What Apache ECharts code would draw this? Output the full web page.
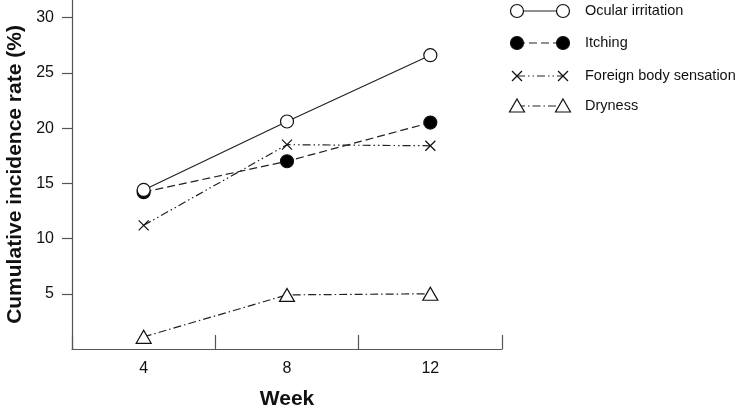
<!DOCTYPE html>
<html><head><meta charset="utf-8">
<script src="https://cdn.jsdelivr.net/npm/echarts@6/dist/echarts.min.js"></script>
<style>html,body{margin:0;padding:0;background:#fff}#c{width:735px;height:406px}</style>
</head><body><div id="c"></div>
<script>
var weeks = ['4', '8', '12'];
var ocular = [14.4, 20.6, 26.6];
var itching = [14.2, 17.0, 20.5];
var foreignBody = [11.2, 18.5, 18.4];
var dryness = [1.1, 4.9, 5.0];
var yTicks = [5, 10, 15, 20, 25, 30];
var names = ['Ocular irritation', 'Itching', 'Foreign body sensation', 'Dryness'];

var CROSS = 'path://M0,0L10,10M10,0L0,10';
var styles = [
  {symbol: 'circle', size: 13, fill: '#fff', dash: 'solid'},
  {symbol: 'circle', size: 13, fill: '#000', dash: [8, 4]},
  {symbol: CROSS, size: 10, fill: 'none', dash: [8, 3, 1.5, 3, 1.5, 3]},
  {symbol: 'triangle', size: [15, 13], fill: '#fff', dash: [8, 3, 1.5, 3]}
];
var datasets = [ocular, itching, foreignBody, dryness];

var series = datasets.map(function (d, i) {
  var s = styles[i];
  return {
    name: names[i], type: 'line', data: d, symbol: s.symbol, symbolSize: s.size,
    z: 10 - i,
    lineStyle: {color: '#222', width: 1.2, type: s.dash},
    itemStyle: {color: s.fill, borderColor: '#111', borderWidth: 1.2},
    emphasis: {disabled: true}, animation: false
  };
});

// legend drawn as graphics
var graphics = [];
var legendRows = [11, 43, 76, 106];
styles.forEach(function (s, i) {
  var y = legendRows[i];
  var x1 = 517, x2 = 563;
  graphics.push({type: 'line', shape: {x1: x1, y1: y, x2: x2, y2: y},
    style: {stroke: '#222', lineWidth: 1.2, lineDash: s.dash === 'solid' ? null : s.dash}, z: 1});
  [x1, x2].forEach(function (x) {
    if (s.symbol === 'circle') {
      graphics.push({type: 'circle', shape: {cx: x, cy: y, r: 6.5}, style: {fill: s.fill, stroke: '#111', lineWidth: 1.2}, z: 2});
    } else if (s.symbol === CROSS) {
      graphics.push({type: 'polyline', shape: {points: [[x - 5, y - 5], [x + 5, y + 5]]}, style: {stroke: '#111', lineWidth: 1.2}, z: 2});
      graphics.push({type: 'polyline', shape: {points: [[x + 5, y - 5], [x - 5, y + 5]]}, style: {stroke: '#111', lineWidth: 1.2}, z: 2});
    } else {
      graphics.push({type: 'polygon', shape: {points: [[x, y - 7], [x + 7.5, y + 6], [x - 7.5, y + 6]]}, style: {fill: '#fff', stroke: '#111', lineWidth: 1.2}, z: 2});
    }
  });
  graphics.push({type: 'text', x: 585, y: y, style: {text: names[i], fill: '#111', font: '14.5px "Liberation Sans", Arial, sans-serif', verticalAlign: 'middle'}, z: 2});
});

var chart = echarts.init(document.getElementById('c'), null, {renderer: 'canvas'});
chart.setOption({
  animation: false,
  backgroundColor: '#fff',
  textStyle: {fontFamily: '"Liberation Sans", Arial, sans-serif'},
  grid: {left: 72, right: 233, top: 0, bottom: 57, containLabel: false, outerBoundsMode: 'none'},
  xAxis: {
    type: 'category', data: weeks, boundaryGap: true,
    name: 'Week', nameLocation: 'middle', nameGap: 40,
    nameTextStyle: {fontSize: 21, fontWeight: 'bold', color: '#111'},
    axisLine: {show: true, lineStyle: {color: '#555', width: 1.2}},
    axisTick: {show: true, inside: true, length: 14, interval: 0, alignWithLabel: false, lineStyle: {color: '#555', width: 1.2}},
    axisLabel: {fontSize: 16, color: '#111', margin: 12},
    splitLine: {show: false}
  },
  yAxis: {
    type: 'value', min: 0, max: 31.6,
    name: 'Cumulative incidence rate (%)', nameLocation: 'middle', nameGap: 46,
    nameTextStyle: {fontSize: 21, fontWeight: 'bold', color: '#111'},
    axisLine: {show: true, lineStyle: {color: '#555', width: 1.2}},
    axisTick: {show: true, length: 10, customValues: yTicks, lineStyle: {color: '#555', width: 1.2}},
    axisLabel: {fontSize: 16, color: '#111', margin: 18, customValues: yTicks},
    splitLine: {show: false}
  },
  graphic: graphics,
  series: series
});
</script>
</body></html>
